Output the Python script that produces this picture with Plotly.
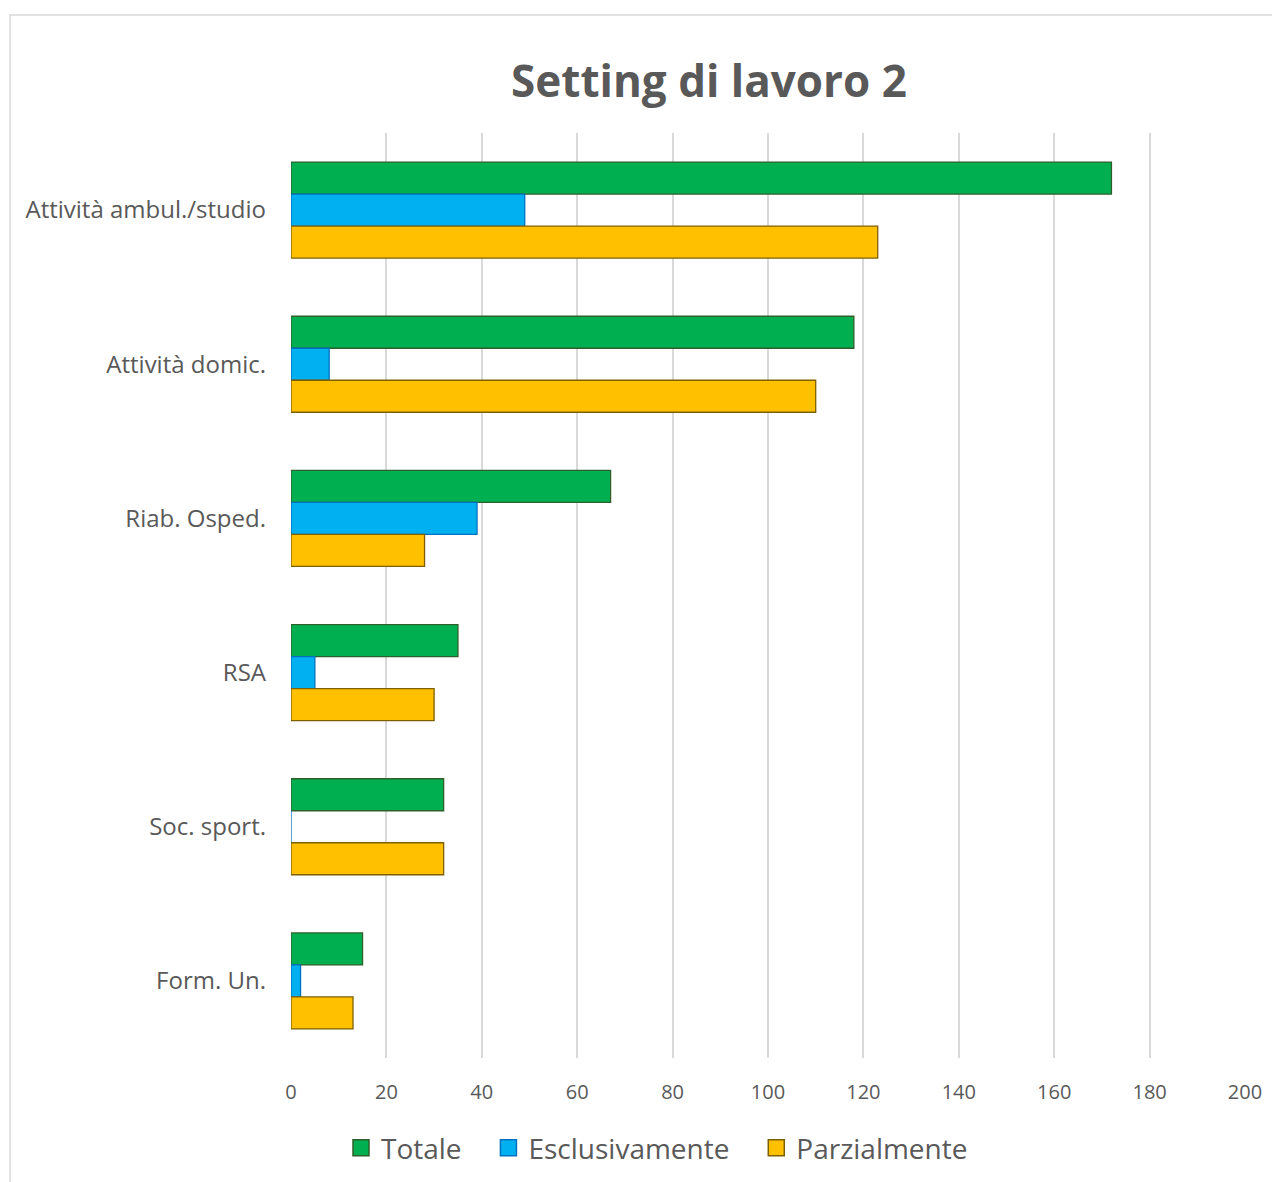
import plotly.graph_objects as go

categories = ["Attività ambul./studio", "Attività domic.", "Riab. Osped.", "RSA", "Soc. sport.", "Form. Un."]
totale = [172, 118, 67, 35, 32, 15]
esclusivamente = [49, 8, 39, 5, 0, 2]
parzialmente = [123, 110, 28, 30, 32, 13]
x_ticks = [0, 20, 40, 60, 80, 100, 120, 140, 160, 180, 200]

OFF = 8  # page body margin
W, H = 1280 - OFF, 1182 - OFF
L, T = 291 - OFF, 133 - OFF
R = W - (1245 - OFF)
B = H - (1058 - OFF)
pw, ph = W - L - R, H - T - B

FONT = "Open Sans"
TXT = "#595959"
NB = "\u00a0" * 3

series = [
    ("Totale", totale, "#00B050", "#2F5F2A", NB),
    ("Esclusivamente", esclusivamente, "#00B0F0", "#0070C0", NB),
    ("Parzialmente", parzialmente, "#FFC000", "#7F6000", ""),
]

fig = go.Figure()
for name, vals, fill, line, _ in series:
    fig.add_trace(go.Bar(
        y=categories, x=vals, name=name, orientation="h", showlegend=False,
        marker=dict(color=fill, line=dict(color=line, width=1.3)),
    ))
for name, vals, fill, line, pad in series:
    fig.add_trace(go.Scatter(
        x=[None], y=[None], mode="markers", name=name + pad, showlegend=True,
        marker=dict(symbol="square", size=17, color=fill, line=dict(color=line, width=1.5)),
    ))

def px_x(p):
    return (p - 291) / pw

def px_y(p):
    return (1058 - p) / ph

fig.update_layout(
    width=W, height=H,
    margin=dict(l=L, r=R, t=T, b=B, autoexpand=False),
    paper_bgcolor="white", plot_bgcolor="white",
    barmode="group", bargap=0.377, bargroupgap=0,
    title=dict(text="<b>Setting di lavoro 2</b>", x=(709 - OFF) / W, xanchor="center",
               y=1 - (82 - OFF) / H, yanchor="middle",
               font=dict(family=FONT, size=44, color=TXT)),
    xaxis=dict(range=[0, 200], tickvals=x_ticks, showgrid=True, gridcolor="#D9D9D9",
               gridwidth=1.5, zeroline=False, showline=False, ticks="",
               ticklabelstandoff=20,
               tickfont=dict(family=FONT, size=20, color=TXT), fixedrange=True),
    yaxis=dict(autorange="reversed", showgrid=False, zeroline=False, showline=False,
               ticks="", ticklabelstandoff=24,
               tickfont=dict(family=FONT, size=24, color=TXT)),
    legend=dict(orientation="h", x=px_x(657), xanchor="center", y=px_y(1148),
                yanchor="middle", font=dict(family=FONT, size=28, color=TXT),
                itemsizing="trace", traceorder="normal"),
    showlegend=True,
    shapes=[dict(type="rect", xref="paper", yref="paper",
                 x0=px_x(10), x1=px_x(1300), y0=px_y(1200), y1=px_y(15),
                 line=dict(color="#D9D9D9", width=1.5), fillcolor="rgba(0,0,0,0)",
                 layer="below")],
)

fig.write_html("out.html")
